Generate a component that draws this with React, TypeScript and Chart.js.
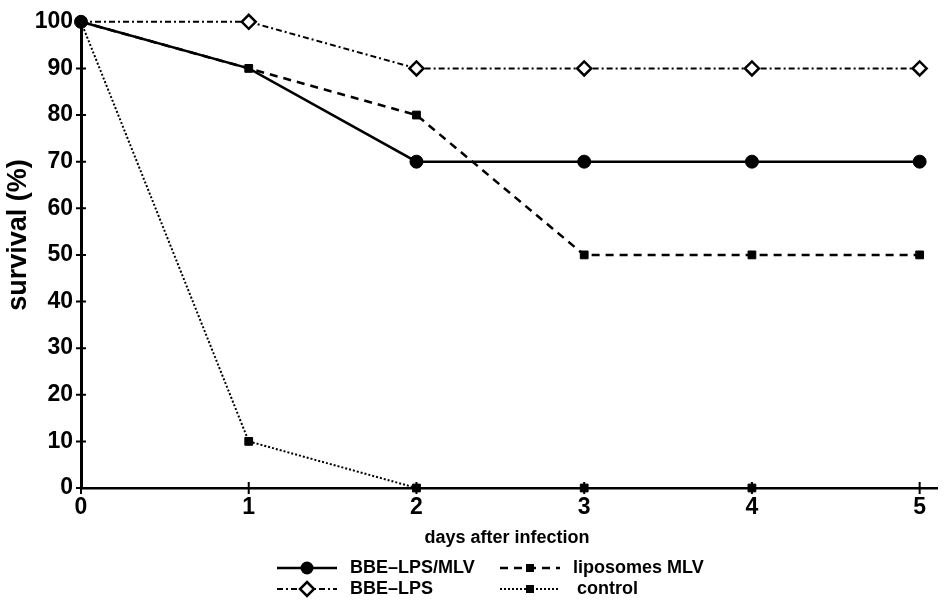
import React, { useEffect, useRef } from "react";
import { Chart, registerables } from "chart.js";

Chart.register(...registerables);

// ---- data ----
const days = [0, 1, 2, 3, 4, 5];
const yTickValues = [0, 10, 20, 30, 40, 50, 60, 70, 80, 90, 100];
const seriesNames = ["BBE–LPS/MLV", "liposomes MLV", "BBE–LPS", "control"];
const bbeLpsMlv = [100, 90, 70, 70, 70, 70];
const liposomesMlv = [100, 90, 80, 50, 50, 50];
const bbeLps = [100, 100, 90, 90, 90, 90];
const control = [100, 10, 0, 0, 0];
const xTitle = "days after infection";
const yTitle = "survival (%)";

const FONT = '"Liberation Sans", Arial, Helvetica, sans-serif';

const toPoints = (vals: number[]) => vals.map((v, i) => ({ x: days[i], y: v }));

const decorPlugin = {
  id: "decor",
  beforeDatasetsDraw(chart: any) {
    const { ctx, chartArea, scales } = chart;
    const x = scales.x;
    const y = scales.y;
    ctx.save();
    ctx.strokeStyle = "#000";
    ctx.lineWidth = 2;
    ctx.setLineDash([]);
    ctx.beginPath();
    yTickValues.forEach((v) => {
      const py = y.getPixelForValue(v);
      ctx.moveTo(chartArea.left - 5, py);
      ctx.lineTo(chartArea.left + 5, py);
    });
    days.forEach((d) => {
      const px = x.getPixelForValue(d);
      ctx.moveTo(px, chartArea.bottom - 6);
      ctx.lineTo(px, chartArea.bottom + 6);
    });
    ctx.stroke();
    ctx.lineWidth = 3;
    ctx.beginPath();
    ctx.moveTo(chartArea.left, chartArea.top - 5);
    ctx.lineTo(chartArea.left, chartArea.top + 1);
    ctx.stroke();
    ctx.restore();
  },
  afterDraw(chart: any) {
    const { ctx } = chart;
    ctx.save();
    ctx.fillStyle = "#000";
    // axis titles
    ctx.font = `bold 18px ${FONT}`;
    ctx.textAlign = "center";
    ctx.textBaseline = "middle";
    ctx.fillText(xTitle, 507, 538);
    ctx.save();
    ctx.translate(19, 235);
    ctx.rotate(-Math.PI / 2);
    ctx.font = `bold 27px ${FONT}`;
    ctx.fillText(yTitle, 0, 0);
    ctx.restore();

    // legend
    const layout = [
      { ds: 0, sx: 277, row: 0, tx: 350 },
      { ds: 1, sx: 500, row: 0, tx: 573 },
      { ds: 2, sx: 277, row: 1, tx: 350 },
      { ds: 3, sx: 500, row: 1, tx: 577 },
    ];
    const rowsY = [568, 589];
    layout.forEach((it) => {
      const ds = chart.data.datasets[it.ds];
      const yy = rowsY[it.row];
      ctx.strokeStyle = "#000";
      ctx.lineWidth = ds.borderWidth;
      ctx.setLineDash(ds.borderDash || []);
      ctx.beginPath();
      ctx.moveTo(it.sx, yy);
      ctx.lineTo(it.sx + 60, yy);
      ctx.stroke();
      ctx.setLineDash([]);
      const mx = it.sx + 30;
      const style = ds.pointStyle;
      ctx.fillStyle = ds.pointBackgroundColor;
      ctx.lineWidth = ds.pointBorderWidth;
      if (style === "circle") {
        ctx.beginPath();
        ctx.arc(mx, yy, 6.5, 0, Math.PI * 2);
        ctx.fill();
      } else if (style === "rectRot") {
        const r = 7;
        ctx.beginPath();
        ctx.moveTo(mx, yy - r);
        ctx.lineTo(mx + r, yy);
        ctx.lineTo(mx, yy + r);
        ctx.lineTo(mx - r, yy);
        ctx.closePath();
        ctx.fill();
        ctx.stroke();
      } else {
        ctx.fillStyle = "#000";
        ctx.fillRect(mx - 4, yy - 4, 8, 8);
      }
      ctx.fillStyle = "#000";
      ctx.font = `bold 18px ${FONT}`;
      ctx.textAlign = "left";
      ctx.textBaseline = "middle";
      ctx.fillText(seriesNames[it.ds], it.tx, yy);
    });
    ctx.restore();
  },
};

export default function App() {
  const ref = useRef<HTMLCanvasElement>(null);
  useEffect(() => {
    if (!ref.current) return;
    const chart = new Chart(ref.current, {
      type: "line",
      data: {
        datasets: [
          {
            label: seriesNames[0],
            data: toPoints(bbeLpsMlv),
            clip: false,
            borderColor: "#000",
            borderWidth: 2.5,
            borderDash: [],
            pointStyle: "circle",
            pointRadius: [6.5, 0, 6.5, 6.5, 6.5, 6.5],
            pointBackgroundColor: "#000",
            pointBorderColor: "#000",
            pointBorderWidth: 1,
          },
          {
            label: seriesNames[1],
            data: toPoints(liposomesMlv),
            clip: false,
            borderColor: "#000",
            borderWidth: 2.5,
            borderDash: [8, 6],
            pointStyle: "rect",
            pointRadius: [0, 5.5, 5.5, 5.5, 5.5, 5.5],
            pointBackgroundColor: "#000",
            pointBorderColor: "#000",
            pointBorderWidth: 1,
          },
          {
            label: seriesNames[2],
            data: toPoints(bbeLps),
            clip: false,
            borderColor: "#000",
            borderWidth: 2,
            borderDash: [6, 3, 2, 3],
            pointStyle: "rectRot",
            pointRadius: [0, 7, 7, 7, 7, 7],
            pointBackgroundColor: "#fff",
            pointBorderColor: "#000",
            pointBorderWidth: 2.5,
          },
          {
            label: seriesNames[3],
            data: toPoints(control),
            clip: false,
            borderColor: "#000",
            borderWidth: 2,
            borderDash: [2, 2],
            pointStyle: "rect",
            pointRadius: [0, 5.5, 5.5, 5.5, 5.5],
            pointBackgroundColor: "#000",
            pointBorderColor: "#000",
            pointBorderWidth: 1,
          },
        ],
      },
      options: {
        responsive: false,
        animation: false,
        layout: { padding: { top: 18, right: 2, bottom: 52, left: 0 } },
        plugins: { legend: { display: false }, tooltip: { enabled: false } },
        elements: { line: { tension: 0 } },
        scales: {
          x: {
            type: "linear",
            min: 0,
            max: 5.1064,
            afterBuildTicks: (s: any) => {
              s.ticks = days.map((d) => ({ value: d }));
            },
            afterFit: (s: any) => {
              s.height = 61;
            },
            grid: { display: false, drawTicks: false },
            border: { display: true, color: "#000", width: 2.5 },
            ticks: {
              color: "#000",
              padding: 6,
              font: { family: FONT, size: 23, weight: "bold" },
            },
          },
          y: {
            min: 0,
            max: 100,
            afterBuildTicks: (s: any) => {
              s.ticks = yTickValues.map((v) => ({ value: v }));
            },
            afterFit: (s: any) => {
              s.width = 81;
            },
            grid: { display: false, drawTicks: false },
            border: { display: true, color: "#000", width: 3 },
            ticks: {
              color: "#000",
              padding: 8,
              font: { family: FONT, size: 23, weight: "bold" },
            },
          },
        },
      },
      plugins: [decorPlugin],
    } as any);
    return () => chart.destroy();
  }, []);
  return (
    <div style={{ position: "absolute", left: 0, top: 0, width: 947, height: 601, background: "#fff" }}>
      <canvas ref={ref} width={947} height={601} />
    </div>
  );
}
